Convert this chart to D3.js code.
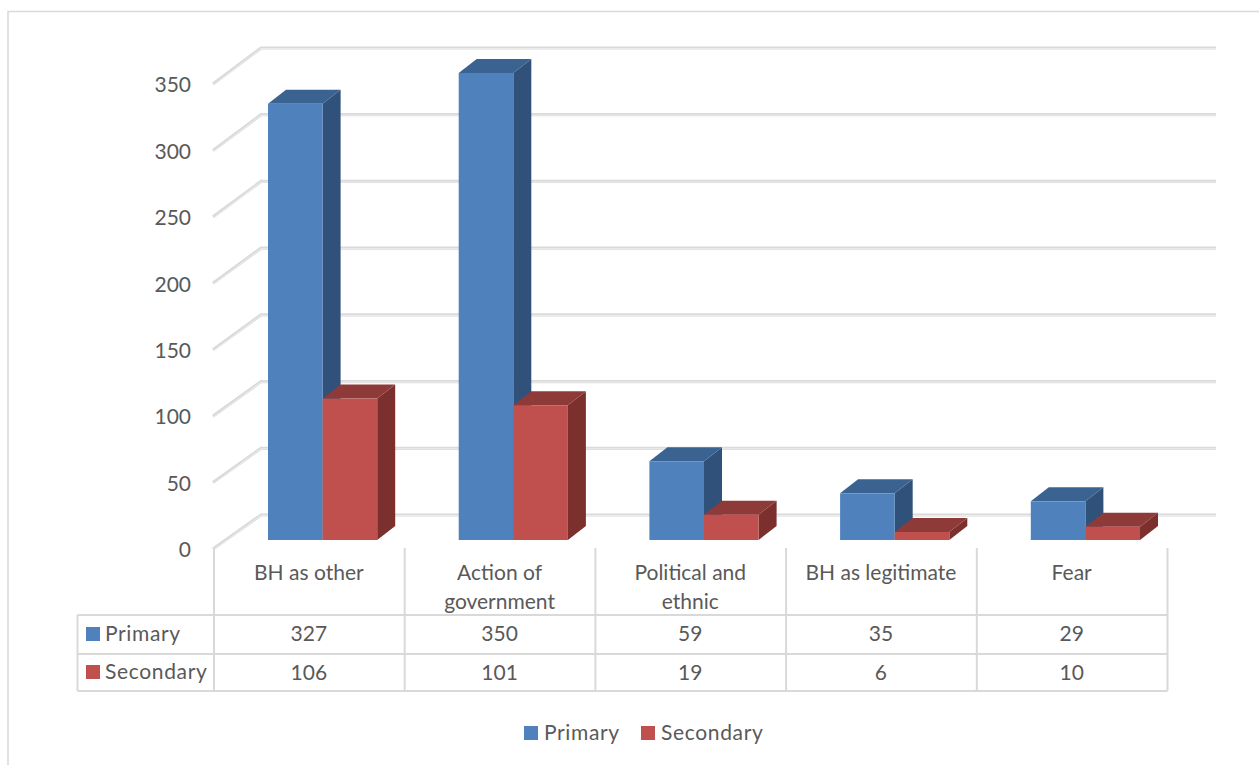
<!DOCTYPE html>
<html>
<head>
<meta charset="utf-8">
<script src="https://cdn.jsdelivr.net/npm/d3@7"></script>
<style>
  html, body { margin: 0; padding: 0; background: #fff; }
  svg { display: block; }
  text { font-family: Lato, sans-serif; fill: #595959; }
</style>
</head>
<body>
<svg id="chart" width="1259" height="765"></svg>
<script>
const categories = [["BH as other"], ["Action of", "government"], ["Political and", "ethnic"], ["BH as legitimate"], ["Fear"]];
const seriesNames = ["Primary", "Secondary"];
const primary = [327, 350, 59, 35, 29];
const secondary = [106, 101, 19, 6, 10];
const yTicks = [0, 50, 100, 150, 200, 250, 300, 350];

const palette = {
  Primary:   { front: "#4f81bd", side: "#30527a", top: "#3b6391" },
  Secondary: { front: "#c0504d", side: "#7c302e", top: "#8e3a38" }
};
const rule = "#d9d9d9";
const fontSize = 21;
const nameSpacing = "0.65px";

const svg = d3.select("#chart");

// Plot scales: bars stand on the mid plane, the wall sits behind it,
// and the side-wall lines end on the nearer front edge.
const x = d3.scaleBand().domain(d3.range(categories.length)).range([214, 1167.5]);
const y = d3.scaleLinear().domain([0, 350]).range([540, 73]);
const yFront = d3.scaleLinear().domain([0, 350]).range([549, 84]);
const barW = 54.6;
const barInset = 54;
const depth = { dx: 18, dy: -14 };
const wall = { xLeft: 213, xBack: 261, xRight: 1216, backDy: -26 };

// Outer chart frame
svg.append("path").attr("d", "M8,765V11.5H1259").attr("fill", "none").attr("stroke", rule).attr("stroke-width", 1.5);

// Wall and side-wall gridlines
const grid = svg.append("g");
yTicks.forEach(v => {
  const yb = y(v) + wall.backDy, yf = yFront(v);
  grid.append("path")
    .attr("d", `M${wall.xLeft},${yf}L${wall.xBack},${yb + 1}H${wall.xRight}`)
    .attr("fill", "none").attr("stroke", "#dadada").attr("stroke-width", 3.2);
  grid.append("path")
    .attr("d", `M${wall.xLeft + 1},${yf + 0.6}L${wall.xBack},${yb + 1.5}H${wall.xRight}`)
    .attr("fill", "none").attr("stroke", "#ececec").attr("stroke-width", 1);
});

// Value axis
const axis = d3.axisLeft(yFront).tickValues(yTicks).tickSize(0).tickPadding(0);
const axisG = svg.append("g").attr("transform", "translate(191,1)").call(axis);
axisG.select(".domain").remove();
axisG.selectAll("text").style("font-family", "Lato, sans-serif").style("font-size", fontSize + "px").attr("fill", "#595959");

// Extruded bars
function drawBar(g, x0, value, colors) {
  const x1 = x0 + barW, yt = y(value), yb = y(0);
  const { dx, dy } = depth;
  g.append("polygon").attr("fill", colors.side)
    .attr("points", [[x1, yt], [x1 + dx, yt + dy], [x1 + dx, yb + dy], [x1, yb]].join(" "));
  g.append("polygon").attr("fill", colors.top)
    .attr("points", [[x0, yt], [x0 + dx, yt + dy], [x1 + dx, yt + dy], [x1, yt]].join(" "));
  g.append("rect").attr("x", x0).attr("y", yt).attr("width", barW).attr("height", yb - yt).attr("fill", colors.front);
}
const bars = svg.append("g");
categories.forEach((c, i) => {
  const g = bars.append("g");
  const x0 = x(i) + barInset;
  drawBar(g, x0, primary[i], palette.Primary);
  drawBar(g, x0 + barW, secondary[i], palette.Secondary);
});

// Data table below the plot
const table = svg.append("g").attr("stroke", rule).attr("stroke-width", 2).attr("fill", "none");
const rowY = [615, 654, 691];
const tableLeft = 77.5;
rowY.forEach(ry => table.append("line").attr("x1", tableLeft).attr("x2", x.range()[1]).attr("y1", ry).attr("y2", ry));
table.append("line").attr("x1", tableLeft).attr("x2", tableLeft).attr("y1", rowY[0]).attr("y2", rowY[2]);
d3.range(categories.length + 1).forEach(i => {
  const vx = x.range()[0] + i * x.bandwidth();
  table.append("line").attr("x1", vx).attr("x2", vx).attr("y1", 548).attr("y2", rowY[2]);
});

const labels = svg.append("g").attr("font-size", fontSize);
categories.forEach((lines, i) => {
  const cx = x(i) + x.bandwidth() / 2 - 0.5;
  lines.forEach((t, k) => labels.append("text").attr("x", cx).attr("y", 579.5 + k * 29).attr("text-anchor", "middle").text(t));
  labels.append("text").attr("x", cx).attr("y", 641).attr("text-anchor", "middle").text(primary[i]);
  labels.append("text").attr("x", cx).attr("y", 679.5).attr("text-anchor", "middle").text(secondary[i]);
});
seriesNames.forEach((name, k) => {
  const cy = k === 0 ? 634 : 672;
  labels.append("rect").attr("x", 86).attr("y", cy - 7).attr("width", 14).attr("height", 14).attr("fill", palette[name].front);
  labels.append("text").attr("x", 105).attr("y", cy + 7).style("letter-spacing", nameSpacing).text(name);
});

// Legend
const legendX = [524, 641];
seriesNames.forEach((name, k) => {
  labels.append("rect").attr("x", legendX[k]).attr("y", 726).attr("width", 14).attr("height", 14).attr("fill", palette[name].front);
  labels.append("text").attr("x", legendX[k] + 20).attr("y", 740).style("letter-spacing", nameSpacing).text(name);
});
</script>
</body>
</html>
